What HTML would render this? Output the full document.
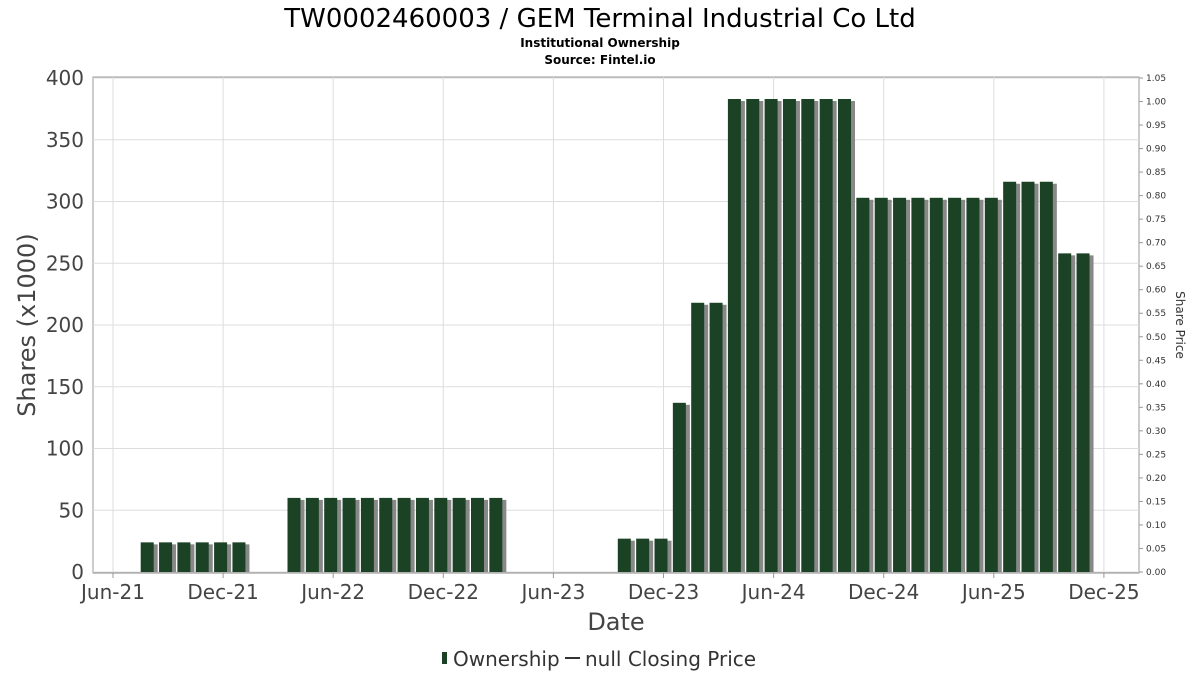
<!DOCTYPE html>
<html><head><meta charset="utf-8"><style>
body{margin:0;background:#fff;font-family:"DejaVu Sans","Liberation Sans",sans-serif;}
svg text{font-family:"DejaVu Sans","Liberation Sans",sans-serif;}
</style></head><body>
<svg id="chart" width="1200" height="675" xmlns="http://www.w3.org/2000/svg">
<text x="600" y="27" text-anchor="middle" font-size="26" fill="#000">TW0002460003 / GEM Terminal Industrial Co Ltd</text>
<text x="600" y="47" text-anchor="middle" font-size="12" font-weight="bold">Institutional Ownership</text>
<text x="600" y="64" text-anchor="middle" font-size="12" font-weight="bold">Source: Fintel.io</text>
<rect x="93" y="77" width="1046" height="496" fill="#fff" stroke="#999"/>
<g id="grid"></g><g id="bars"></g><g id="axes"></g>
<text transform="translate(35,325) rotate(-90)" text-anchor="middle" font-size="24" fill="#444">Shares (x1000)</text>
<text transform="translate(1176,325) rotate(90)" text-anchor="middle" font-size="12" fill="#333">Share Price</text>
<text x="616" y="630" text-anchor="middle" font-size="24" fill="#444">Date</text>
<g>
<rect x="442" y="652" width="5" height="12" fill="#1c4226"/>
<text x="453" y="666" font-size="20" fill="#333">Ownership</text>
<line x1="565" y1="658" x2="580" y2="658" stroke="#333" stroke-width="2"/>
<text x="585" y="666" font-size="20" fill="#333">null Closing Price</text>
</g>
</svg>
<script>
const monthIdx=[2,3,4,5,6,7,10,11,12,13,14,15,16,17,18,19,20,21,28,29,30,31,32,33,34,35,36,37,38,39,40,41,42,43,44,45,46,47,48,49,50,51,52,53];
const shares=[24,24,24,24,24,24,60,60,60,60,60,60,60,60,60,60,60,60,27,27,27,137,218,218,383,383,383,383,383,383,383,303,303,303,303,303,303,303,303,316,316,316,258,258];
const yTicks=[0,50,100,150,200,250,300,350,400];
const xTickLabels=["Jun-21","Dec-21","Jun-22","Dec-22","Jun-23","Dec-23","Jun-24","Dec-24","Jun-25","Dec-25"];
const xTickIdx=[0,6,12,18,24,30,36,42,48,54];
const priceTicks=[0,0.05,0.1,0.15,0.2,0.25,0.3,0.35,0.4,0.45,0.5,0.55,0.6,0.65,0.7,0.75,0.8,0.85,0.9,0.95,1.0,1.05];
const NS="http://www.w3.org/2000/svg";
const x=i=>113+18.35*i;
const y=v=>572-v*1.235;
const y2=p=>572-p/1.05*494;
function mk(t,a,p){const e=document.createElementNS(NS,t);for(const k in a)e.setAttribute(k,a[k]);p.appendChild(e);return e;}
const grid=document.getElementById('grid'),bars=document.getElementById('bars'),axes=document.getElementById('axes');
yTicks.forEach(v=>{
 const l=mk('line',{x1:93,x2:1139,y1:y(v),y2:y(v),stroke:'#ddd'},grid);
 
 
 const t=mk('text',{x:84,y:y(v)+7,'text-anchor':'end','font-size':20,fill:'#444'},axes);
 t.textContent=v;
 
 
});
xTickIdx.forEach((m,k)=>{
 const l=mk('line',{x1:x(m),x2:x(m),y1:77,y2:573,stroke:'#ddd'},grid);
 
 
 mk('line',{x1:x(m),x2:x(m),y1:573,y2:578,stroke:'#999'},axes);
 const t=mk('text',{x:x(m),y:599,'text-anchor':'middle','font-size':20,fill:'#444'},axes);
 t.textContent=xTickLabels[k];
 
 
});
priceTicks.forEach(p=>{
 mk('line',{x1:1139,x2:1143,y1:y2(p),y2:y2(p),stroke:'#999'},axes);
 const t=mk('text',{x:1146,y:y2(p)+3,'font-size':9,fill:'#333'},axes);
 t.textContent=p.toFixed(2);
 
 
});
monthIdx.forEach((m,i)=>{
 const cx=x(m)-2, top=y(shares[i]);
 const s=mk('rect',{x:cx-6+3,y:top+2,width:13,height:572-top-2,fill:'#888'},bars);
 
 
 const b=mk('rect',{x:cx-7,y:top,width:13,height:572-top,fill:'#1c4226'},bars);
 
 
});
mk('line',{x1:93,x2:1139,y1:573,y2:573,stroke:'#888'},axes);
</script>
</body></html>
